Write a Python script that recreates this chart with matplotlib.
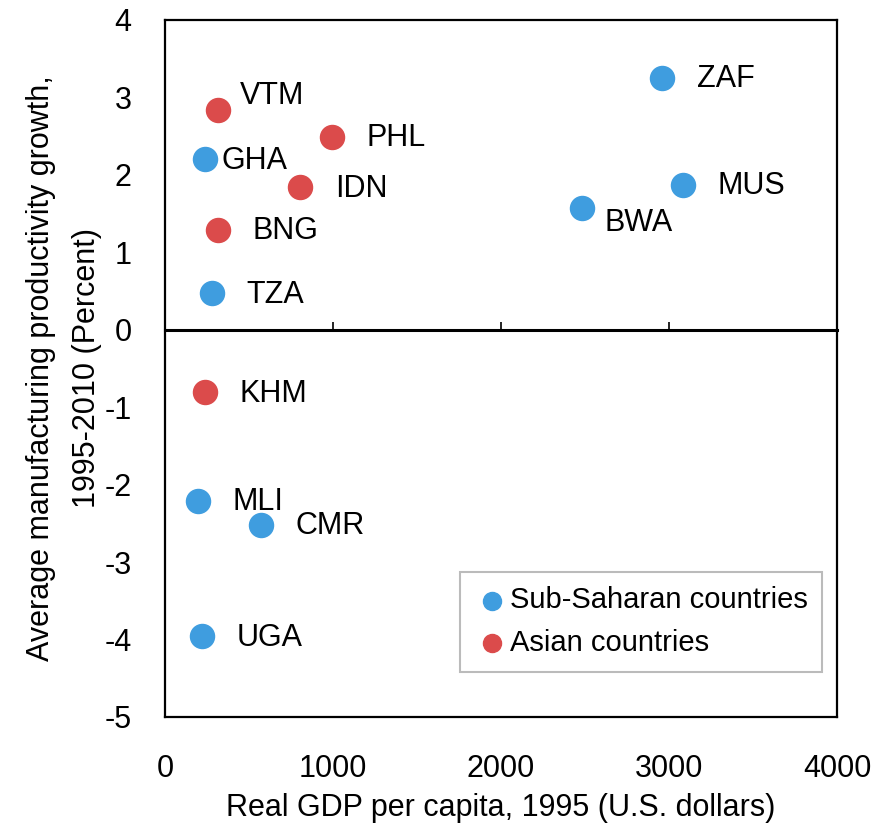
import matplotlib.pyplot as plt
from matplotlib import font_manager

plt.rcParams['axes.unicode_minus'] = False

# Arial Narrow look-alike if present, otherwise regular Liberation Sans
installed = {f.name for f in font_manager.fontManager.ttflist}
if "Liberation Sans Narrow" in installed:
    plt.rcParams['font.family'] = ['Liberation Sans Narrow', 'DejaVu Sans']
    FS = 25
else:
    plt.rcParams['font.family'] = ['Liberation Sans', 'DejaVu Sans']
    FS = 22

# Sub-Saharan countries
ssa_codes = ["GHA", "TZA", "ZAF", "MUS", "BWA", "MLI", "CMR", "UGA"]
ssa_gdp = [238, 280, 2958, 3083, 2482, 196, 571, 220]
ssa_growth = [2.20, 0.47, 3.25, 1.87, 1.57, -2.21, -2.52, -3.96]

# Asian countries
asia_codes = ["VTM", "PHL", "IDN", "BNG", "KHM"]
asia_gdp = [315, 994, 804, 315, 238]
asia_growth = [2.84, 2.49, 1.84, 1.29, -0.81]

BLUE = "#3f9ddf"
RED = "#db4b4b"

# label offsets in points (default is to the right)
label_offsets = {"VTM": (16, 10), "GHA": (12, -1), "BWA": (16, -11)}
DEFAULT_OFFSET = (25, -1)

fig = plt.figure(figsize=(8.75, 8.33), dpi=100)
ax = fig.add_axes([0.1886, 0.1393, 0.768, 0.8367])

ax.scatter(ssa_gdp, ssa_growth, s=300, color=BLUE, label="Sub-Saharan countries", zorder=3)
ax.scatter(asia_gdp, asia_growth, s=300, color=RED, label="Asian countries", zorder=3)

for codes, xs, ys in [(ssa_codes, ssa_gdp, ssa_growth), (asia_codes, asia_gdp, asia_growth)]:
    for c, x, y in zip(codes, xs, ys):
        off = label_offsets.get(c, DEFAULT_OFFSET)
        ax.annotate(c, (x, y), xytext=off, textcoords="offset points",
                    ha="left", va="center", fontsize=FS)

ax.set_xlim(0, 4000)
ax.set_ylim(-5, 4)
ax.set_xticks([0, 1000, 2000, 3000, 4000])
ax.set_yticks(range(-5, 5))
ax.tick_params(length=0, labelsize=FS)
ax.tick_params(axis="y", pad=24)
ax.tick_params(axis="x", pad=27)
for sp in ax.spines.values():
    sp.set_linewidth(1.6)

# zero line with upward tick marks
sec = ax.secondary_xaxis(5 / 9)
sec.set_xticks([1000, 2000, 3000])
sec.tick_params(direction="out", length=6, width=1.2, labeltop=False, labelbottom=False)
sec.spines["top"].set_linewidth(2.2)
sec.spines["bottom"].set_linewidth(2.2)

ax.set_xlabel("Real GDP per capita, 1995 (U.S. dollars)", fontsize=FS, labelpad=6)
ax.set_ylabel("Average manufacturing productivity growth,\n1995-2010 (Percent)",
              fontsize=FS, labelpad=2, linespacing=1.7)

leg = ax.legend(loc="lower right", bbox_to_anchor=(0.978, 0.065), borderaxespad=0,
                fontsize=FS - 1, frameon=True, fancybox=False, edgecolor="#aaaaaa",
                handletextpad=0.0, markerscale=0.75, borderpad=0.5,
                labelspacing=0.5, handlelength=1.2)
leg.get_frame().set_linewidth(1.5)

fig.savefig("out.png", dpi=100)
